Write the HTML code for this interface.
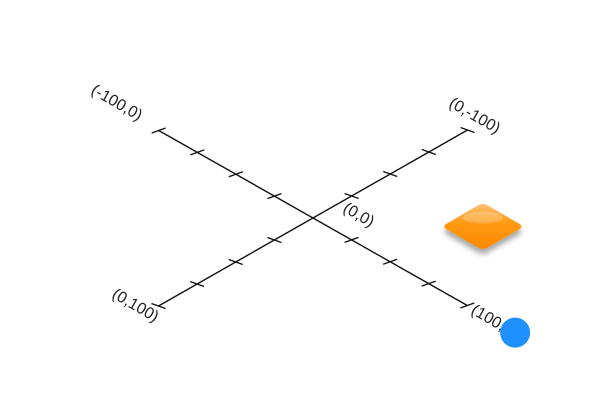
<!DOCTYPE html>
<html><head><meta charset="utf-8"><style>
body{margin:0;background:#fff;width:600px;height:400px;overflow:hidden}
text{font-family:"Liberation Sans",sans-serif;font-size:16px;fill:#222}
</style></head><body>
<svg id="chart" width="600" height="400" viewBox="0 0 600 400">
<defs>
<linearGradient id="og" x1="0" y1="0" x2="0" y2="1"><stop offset="0" stop-color="#ffc070"/><stop offset="0.45" stop-color="#ff9810"/><stop offset="1" stop-color="#ff8800"/></linearGradient>
<filter id="sh" x="-30%" y="-30%" width="160%" height="180%"><feDropShadow dx="0" dy="5" stdDeviation="3" flood-color="#000" flood-opacity="0.35"/></filter>
</defs>
<g id="axes"></g>
<g id="marks"></g>
</svg>
<script>
const tickValues=[-100,-75,-50,-25,25,50,75,100];
const endLabels=["(-100,0)","(100,0)","(0,100)","(0,-100)"];
const diamondPoint=[60,-50];
const circlePoint=[131,0];
const cx=313,cy=218;
function px(x,y){return [cx+x*1.543-y*1.545, cy+x*0.875+y*0.88];}
const NS="http://www.w3.org/2000/svg";
const axes=document.getElementById('axes'),marks=document.getElementById('marks');
function el(t,a,p){const e=document.createElementNS(NS,t);for(const k in a)e.setAttribute(k,a[k]);p.appendChild(e);return e;}
function line(p,q,name){const e=el('line',{x1:p[0],y1:p[1],x2:q[0],y2:q[1],stroke:'#111','stroke-width':1.4},axes);

}
line(px(-100,0),px(100,0),'x-axis-line');
line(px(0,100),px(0,-100),'y-axis-line');
tickValues.forEach(v=>{
  const p=px(v,0);
  line([p[0]-7,p[1]+2.5],[p[0]+7,p[1]-2.5],'x-axis-tick');
  const q=px(0,v);
  line([q[0]-7,q[1]-2.5],[q[0]+7,q[1]+2.5],'y-axis-tick');
});
function label(txt,x,y,name){const t=el('text',{x:0,y:0,transform:`translate(${x},${y}) rotate(30)`},axes);t.textContent=txt;

}
label(endLabels[0],90,93,'label-neg-x');
label(endLabels[1],470,313,'label-pos-x');
label(endLabels[2],111,297,'label-pos-y');
label(endLabels[3],448,106,'label-neg-y');
label("(0,0)",342,211,'label-origin');
const d=px(diamondPoint[0],diamondPoint[1]);
const w=41,h=23.5;
const dg=el('g',{filter:'url(#sh)'},marks);


el('path',{d:`M${d[0]-w+5},${d[1]-3} L${d[0]-4},${d[1]-h+2} Q${d[0]},${d[1]-h} ${d[0]+4},${d[1]-h+2} L${d[0]+w-5},${d[1]-3} Q${d[0]+w},${d[1]} ${d[0]+w-5},${d[1]+3} L${d[0]+4},${d[1]+h-2} Q${d[0]},${d[1]+h} ${d[0]-4},${d[1]+h-2} L${d[0]-w+5},${d[1]+3} Q${d[0]-w},${d[1]} ${d[0]-w+5},${d[1]-3}Z`,fill:'url(#og)'},dg);
el('ellipse',{cx:d[0],cy:d[1]-9,rx:20,ry:6,fill:'#fff',opacity:0.2},dg);
const c=px(circlePoint[0],circlePoint[1]);
const ci=el('circle',{cx:c[0],cy:c[1],r:15,fill:'#1e90ff'},marks);


</script>
</body></html>
